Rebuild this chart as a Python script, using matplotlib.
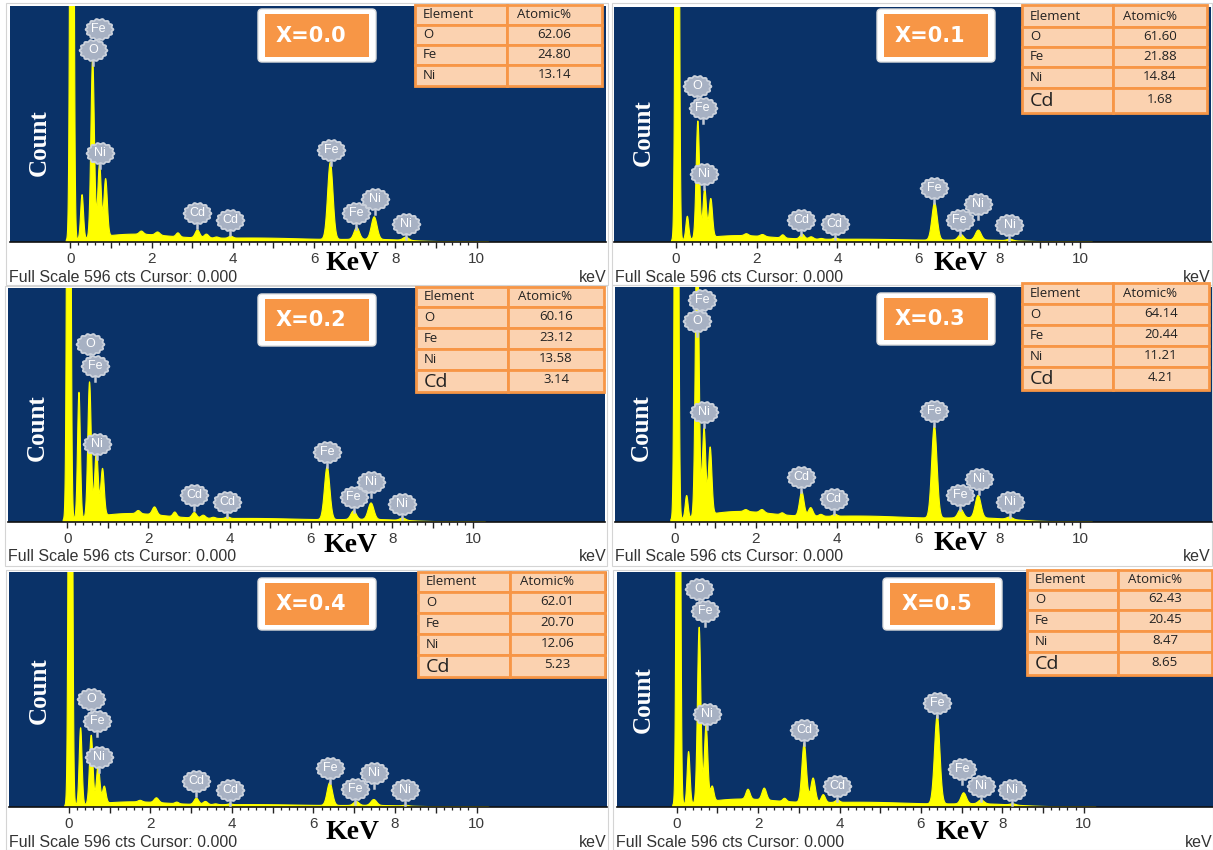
import numpy as np
import matplotlib
matplotlib.use("Agg")
import matplotlib.pyplot as plt
from matplotlib.patches import Rectangle, FancyBboxPatch
from matplotlib.path import Path
from matplotlib.transforms import Affine2D

W, H = 1213, 850
FULL_SCALE = 596

# x-ray lines used to build each spectrum (keV) and their widths
line_kev = [0.04, 0.29, 0.55, 0.72, 0.87, 1.75, 2.15, 2.65, 3.13, 3.35, 3.60, 3.95, 6.40, 7.05, 7.48, 8.26]
line_sigma = [0.035, 0.035, 0.042, 0.042, 0.042, 0.05, 0.055, 0.045, 0.055, 0.055, 0.05, 0.05, 0.066, 0.066, 0.07, 0.07]
# broad continuum humps
bg_kev = [1.5, 4.5, 7.6]
bg_sigma = [0.9, 1.6, 0.8]

titles = ["X=0.0", "X=0.1", "X=0.2", "X=0.3", "X=0.4", "X=0.5"]

# peak heights (cts) per sample, same order as line_kev
peaks_00 = [3000, 112, 455, 185, 145, 8, 8, 10, 20, 10, 3, 5, 195, 30, 57, 8]
peaks_01 = [3000, 59, 298, 125, 98, 5, 5, 8, 12, 6, 2, 3, 95, 14, 25, 4]
peaks_02 = [3000, 322, 345, 170, 120, 8, 20, 12, 14, 8, 3, 4, 135, 22, 42, 6]
peaks_03 = [3000, 57, 800, 220, 170, 5, 8, 5, 62, 22, 5, 5, 235, 22, 57, 6]
peaks_04 = [3000, 196, 175, 98, 43, 4, 12, 4, 16, 8, 2, 2, 58, 10, 15, 2]
peaks_05 = [3000, 133, 445, 195, 38, 25, 30, 8, 150, 62, 20, 6, 225, 28, 10, 3]

bg_00 = [18, 10, 5]
bg_01 = [15, 7, 4]
bg_02 = [20, 9, 5]
bg_03 = [24, 15, 8]
bg_04 = [12, 6, 3]
bg_05 = [18, 12, 6]

# element markers: (label, keV, cts)
marks_00 = [("Fe", 0.70, 538), ("O", 0.56, 484), ("Ni", 0.74, 224), ("Cd", 3.13, 74), ("Cd", 3.94, 55),
            ("Fe", 6.42, 232), ("Fe", 7.04, 72), ("Ni", 7.50, 108), ("Ni", 8.27, 46)]
marks_01 = [("O", 0.53, 395), ("Fe", 0.67, 340), ("Ni", 0.70, 172), ("Cd", 3.10, 57), ("Cd", 3.93, 46),
            ("Fe", 6.39, 137), ("Fe", 7.02, 57), ("Ni", 7.47, 97), ("Ni", 8.25, 42)]
marks_02 = [("O", 0.56, 454), ("Fe", 0.69, 398), ("Ni", 0.73, 199), ("Cd", 3.13, 68), ("Cd", 3.94, 51),
            ("Fe", 6.40, 178), ("Fe", 7.05, 64), ("Ni", 7.48, 101), ("Ni", 8.25, 46)]
marks_03 = [("Fe", 0.67, 564), ("O", 0.55, 509), ("Ni", 0.71, 279), ("Cd", 3.11, 114), ("Cd", 3.92, 59),
            ("Fe", 6.40, 281), ("Fe", 7.03, 69), ("Ni", 7.50, 110), ("Ni", 8.26, 51)]
marks_04 = [("O", 0.55, 275), ("Fe", 0.69, 218), ("Ni", 0.73, 128), ("Cd", 3.13, 66), ("Cd", 3.95, 42),
            ("Fe", 6.41, 100), ("Fe", 7.03, 46), ("Ni", 7.48, 85), ("Ni", 8.25, 42)]
marks_05 = [("O", 0.54, 552), ("Fe", 0.69, 497), ("Ni", 0.73, 235), ("Cd", 3.13, 196), ("Cd", 3.94, 53),
            ("Fe", 6.40, 265), ("Fe", 7.02, 96), ("Ni", 7.47, 52), ("Ni", 8.24, 44)]

# composition tables
elements_3 = ["O", "Fe", "Ni"]
elements_4 = ["O", "Fe", "Ni", "Cd"]
atomic_00 = ["62.06", "24.80", "13.14"]
atomic_01 = ["61.60", "21.88", "14.84", "1.68"]
atomic_02 = ["60.16", "23.12", "13.58", "3.14"]
atomic_03 = ["64.14", "20.44", "11.21", "4.21"]
atomic_04 = ["62.01", "20.70", "12.06", "5.23"]
atomic_05 = ["62.43", "20.45", "8.47", "8.65"]

peaks = [peaks_00, peaks_01, peaks_02, peaks_03, peaks_04, peaks_05]
bgs = [bg_00, bg_01, bg_02, bg_03, bg_04, bg_05]
marks = [marks_00, marks_01, marks_02, marks_03, marks_04, marks_05]
tables = [(elements_3, atomic_00), (elements_4, atomic_01), (elements_4, atomic_02),
          (elements_4, atomic_03), (elements_4, atomic_04), (elements_4, atomic_05)]

# layout in pixels (from top-left): blue plot box, x pixel of 0 and 10 keV, frame, boxes
layout = [
    dict(plot=(10, 6, 606, 242), x0=70.3, x10=476.6, frame=(6, 3, 608, 285), xbox=(258, 9, 376, 62),
         table=(415, 5, 507, 602), trows=[5, 25, 45, 65, 86], count=(39, 143), kev=(352, 264), bottom=277),
    dict(plot=(614, 7, 1211, 242), x0=675.6, x10=1080.3, frame=(612, 3, 1212, 285), xbox=(877, 9, 995, 62),
         table=(1022, 5, 1113, 1207), trows=[5, 27, 47, 67, 88, 113], count=(643, 133), kev=(960, 264), bottom=277),
    dict(plot=(8, 288, 605, 522), x0=67.2, x10=473.4, frame=(5, 286, 607, 566), xbox=(258, 294, 376, 346),
         table=(416, 287, 508, 604), trows=[287, 307, 328, 349, 370, 392], count=(37, 428), kev=(351, 546), bottom=557),
    dict(plot=(615, 287, 1212, 522), x0=674.9, x10=1080.3, frame=(612, 285, 1212, 566), xbox=(877, 293, 995, 345),
         table=(1022, 283, 1113, 1209), trows=[283, 304, 325, 346, 367, 390], count=(641, 428), kev=(960, 544), bottom=557),
    dict(plot=(9, 572, 607, 807), x0=68.8, x10=476.6, frame=(6, 570, 608, 850), xbox=(258, 578, 376, 630),
         table=(418, 572, 510, 605), trows=[572, 592, 613, 634, 655, 677], count=(39, 691), kev=(353, 833), bottom=843),
    dict(plot=(617, 572, 1213, 807), x0=676.8, x10=1083.7, frame=(613, 570, 1213, 850), xbox=(883, 578, 1002, 630),
         table=(1027, 570, 1118, 1212), trows=[570, 590, 610, 631, 652, 675], count=(643, 700), kev=(962, 833), bottom=843),
]

BLUE = "#0a3268"
YELLOW = "#ffff00"
ORANGE = "#f79646"
PEACH = "#fbd2b0"

fig = plt.figure(figsize=(W / 100, H / 100), dpi=100)
px = Affine2D().scale(1 / W, -1 / H).translate(0, 1) + fig.transFigure

# scalloped badge used by the EDX software for element markers
th = np.linspace(0, 2 * np.pi, 181)
rr = 1 + 0.06 * np.cos(14 * th)
badge = Path(np.column_stack([1.3 * rr * np.cos(th), rr * np.sin(th)]), closed=True)

energy = np.linspace(-0.1, 10.3, 5000)

for i in range(6):
    L = layout[i]
    l, t, r, b = L["plot"]
    ppk = (L["x10"] - L["x0"]) / 10

    # screenshot frame
    fl, ft, fr, fb = L["frame"]
    fig.add_artist(Rectangle((fl, ft), fr - fl, fb - ft, transform=px, fill=False,
                             edgecolor="#d4d4d4", lw=0.8, zorder=0))

    ax = fig.add_axes([l / W, 1 - b / H, (r - l) / W, (b - t) / H], facecolor=BLUE)
    ax.set_xlim((l - L["x0"]) / ppk, (r - L["x0"]) / ppk)
    ax.set_ylim(0, FULL_SCALE)

    spec = np.zeros_like(energy)
    for e, s, hgt in zip(line_kev, line_sigma, peaks[i]):
        spec += hgt * np.exp(-0.5 * ((energy - e) / s) ** 2)
    for e, s, hgt in zip(bg_kev, bg_sigma, bgs[i]):
        spec += hgt * np.exp(-0.5 * ((energy - e) / s) ** 2)
    ax.fill_between(energy, 0, spec, color=YELLOW, lw=0.8, zorder=2)
    ax.axvline(0, color="black", lw=0.8, zorder=1)

    for name, e, c in marks[i]:
        ax.plot([e, e], [c - 38, c - 20], color="#c3c9d4", lw=1.8, zorder=3)
        ax.plot(e, c, marker=badge, ms=20, mfc="#a7b1c3", mec="#ccd2dc", mew=1.3, zorder=4)
        ax.text(e, c, name, color="white", fontsize=9, ha="center", va="center",
                family="Liberation Sans", zorder=5)

    for side in ["top", "left", "right"]:
        ax.spines[side].set_visible(False)
    ax.spines["bottom"].set_color("#111111")
    ax.spines["bottom"].set_linewidth(1.2)
    ax.set_yticks([])
    ax.set_xticks(np.arange(0, 11, 1))
    ax.set_xticklabels([str(k) if k % 2 == 0 else "" for k in range(11)])
    ax.set_xticks(np.arange(0, 10.01, 0.2), minor=True)
    ax.tick_params(axis="x", which="major", length=4, width=1, color="#222222",
                   pad=3.5, labelsize=11, labelcolor="#3a3a3a")
    ax.tick_params(axis="x", which="minor", length=2.5, width=0.9, color="#222222")
    for lab in ax.get_xticklabels():
        lab.set_family("Liberation Sans")

    # sample label box
    xl, xt, xr, xb = L["xbox"]
    fig.add_artist(FancyBboxPatch((xl, xt), xr - xl, xb - xt, boxstyle="round,pad=0,rounding_size=4",
                                  transform=px, facecolor="white", edgecolor="#dddddd", lw=1, zorder=2))
    fig.add_artist(Rectangle((xl + 7, xt + 5), xr - xl - 14, xb - xt - 10, transform=px,
                             facecolor=ORANGE, edgecolor="none", zorder=2))
    fig.text((xl + xr) / 2 - 6, (xt + xb) / 2, titles[i], transform=px, color="white",
             fontsize=15, fontweight="bold", ha="center", va="center", zorder=4)

    # composition table
    tl, tdiv, tr = L["table"][0], L["table"][2], L["table"][3]
    rows = L["trows"]
    els, vals = tables[i]
    cells = [("Element", "Atomic%")] + list(zip(els, vals))
    for k, (c1, c2) in enumerate(cells):
        y1, y2 = rows[k], rows[k + 1]
        for xa, xb2 in [(tl, tdiv), (tdiv, tr)]:
            fig.add_artist(Rectangle((xa, y1), xb2 - xa, y2 - y1, transform=px, facecolor=PEACH,
                                     edgecolor=ORANGE, lw=2, zorder=2))
        ym = (y1 + y2) / 2
        big = c1 == "Cd"
        fig.text(tl + 8, ym + (1 if big else 0), c1, transform=px, fontsize=14 if big else 9.5,
                 color="#222222", ha="left", va="center", family="Open Sans", zorder=4)
        if k == 0:
            fig.text(tdiv + 10, ym, c2, transform=px, fontsize=9.5, color="#222222",
                     ha="left", va="center", family="Open Sans", zorder=4)
        else:
            fig.text((tdiv + tr) / 2, ym - 1, c2, transform=px, fontsize=9.5, color="#222222",
                     ha="center", va="center", family="Open Sans", zorder=4)

    # axis texts
    cx, cy = L["count"]
    fig.text(cx, cy, "Count", transform=px, rotation=90, color="white", fontsize=18,
             fontweight="bold", family="Liberation Serif", ha="center", va="center", zorder=4)
    kx, ky = L["kev"]
    fig.text(kx, ky, "KeV", transform=px, color="black", fontsize=20, fontweight="bold",
             family="Liberation Serif", ha="center", va="center", zorder=4)
    fig.text(fl + 3, L["bottom"], "Full Scale 596 cts Cursor: 0.000", transform=px, fontsize=11.5,
             color="#333333", family="Liberation Sans", ha="left", va="center", zorder=4)
    fig.text(fr - 1, L["bottom"], "keV", transform=px, fontsize=11.5, color="#333333",
             family="Liberation Sans", ha="right", va="center", zorder=4)

fig.savefig("out.png", dpi=100, facecolor="white")
